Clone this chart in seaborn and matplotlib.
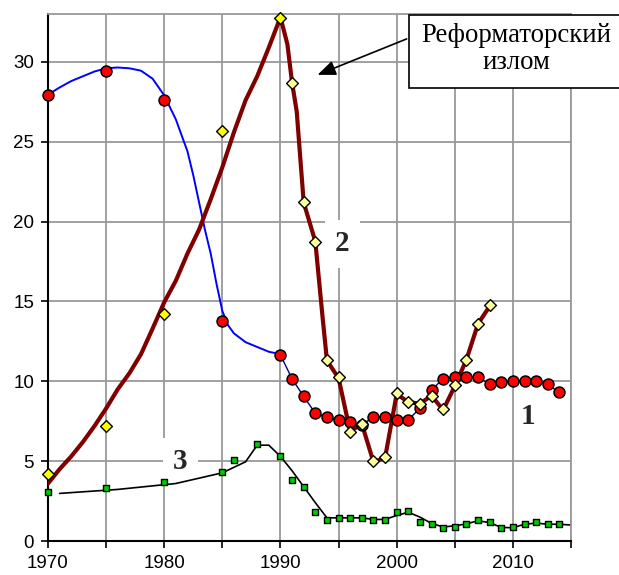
import numpy as np
import pandas as pd
import matplotlib
matplotlib.use("Agg")
import matplotlib.pyplot as plt
import matplotlib.patches as mpatches
import seaborn as sns

# ==============================
# Style
# ==============================
sns.set_theme(style="whitegrid")
plt.rcParams['font.family'] = ['Liberation Sans', 'DejaVu Sans']

# ==============================
# Data
# ==============================
# series 1 - red circles
years1 = [1970, 1975, 1980, 1985] + list(range(1990, 2015))
vals1 = [27.9, 29.4, 27.6, 13.8,
         11.65, 10.15, 9.05, 8.0, 7.75, 7.55, 7.45, 7.25, 7.78, 7.78,
         7.6, 7.6, 8.3, 9.45, 10.17, 10.3, 10.28, 10.28, 9.8, 9.95,
         10.05, 10.05, 10.05, 9.8, 9.3]

# smooth blue curve 1970-1990
blue_years = [1970, 1971, 1972, 1973, 1974, 1975, 1976, 1977, 1978, 1979,
              1980, 1981, 1982, 1982.5, 1983, 1983.5, 1984, 1984.5, 1985, 1985.5,
              1986, 1987, 1988, 1989, 1990]
blue_vals = [27.95, 28.4, 28.8, 29.1, 29.4, 29.6, 29.65, 29.6, 29.45, 28.95,
             27.9, 26.4, 24.4, 22.9, 21.2, 19.5, 18.0, 16.1, 14.4, 13.5,
             13.0, 12.45, 12.15, 11.85, 11.7]

# series 2 - yellow diamonds
years2_old = [1970, 1975, 1980, 1985, 1990]
vals2_old = [4.2, 7.2, 14.2, 25.7, 32.75]
years2_new = list(range(1991, 2009))
vals2_new = [28.7, 21.2, 18.75, 11.35, 10.25, 6.85, 7.3, 4.98, 5.25,
             9.25, 8.7, 8.6, 9.08, 8.25, 9.75, 11.35, 13.6, 14.75]

# thick dark red curve for series 2
red_years = list(range(1970, 1991)) + [1990.6, 1991, 1991.4, 1992, 1993, 1993.6,
                                       1994, 1995, 1996, 1997, 1998, 1999, 2000,
                                       2001, 2002, 2003, 2004, 2005, 2006, 2007, 2008]
red_vals = [3.6, 4.5, 5.3, 6.2, 7.2, 8.3, 9.5, 10.5, 11.7, 13.3,
            14.95, 16.3, 18.0, 19.5, 21.4, 23.4, 25.6, 27.6, 29.1, 30.9, 32.8,
            31.1, 28.7, 26.9, 21.2, 18.75, 14.2,
            11.3, 10.2, 6.85, 7.35, 4.95, 5.2, 9.2,
            8.7, 8.6, 9.1, 8.2, 9.7, 11.35, 13.6, 14.7]

# series 3 - green squares
years3 = [1970, 1975, 1980, 1985, 1986, 1988] + list(range(1990, 2015))
vals3 = [3.05, 3.3, 3.7, 4.3, 5.05, 6.05,
         5.3, 3.8, 3.4, 1.8, 1.3, 1.45, 1.45, 1.45, 1.3, 1.3,
         1.8, 1.85, 1.2, 1.05, 0.8, 0.9, 1.05, 1.3, 1.2, 0.8,
         0.9, 1.05, 1.2, 1.05, 1.05]

# black line for series 3
black_years = [1971, 1976, 1981, 1985, 1987, 1988, 1989] + list(range(1990, 2016))
black_vals = [2.98, 3.23, 3.6, 4.27, 4.96, 6.0, 6.0,
              5.3, 4.4, 3.4, 2.4, 1.45, 1.45, 1.45, 1.45, 1.35, 1.35,
              1.6, 1.8, 1.5, 1.1, 0.88, 0.95, 1.07, 1.27, 1.15, 0.85,
              0.83, 1.05, 1.12, 1.05, 1.05, 1.0]

xticks = list(range(1970, 2016, 5))
xtick_labels = ['1970', '', '1980', '', '1990', '', '2000', '', '2010', '']
yticks = list(range(0, 31, 5))

# ==============================
# Plot
# ==============================
fig = plt.figure(figsize=(6.19, 5.75), dpi=100)
ax = fig.add_axes([48 / 619, 34 / 575, 523 / 619, 527 / 575])
ax.set_facecolor('white')

# lines
sns.lineplot(x=blue_years, y=blue_vals, ax=ax, color='#0000FF', lw=1.4,
             sort=False, estimator=None, zorder=2)
sns.lineplot(x=years1[4:], y=vals1[4:], ax=ax, color='#000080', lw=1.0,
             sort=False, estimator=None, zorder=2)
sns.lineplot(x=black_years, y=black_vals, ax=ax, color='black', lw=1.2,
             sort=False, estimator=None, zorder=2, clip_on=False)
sns.lineplot(x=red_years, y=red_vals, ax=ax, color='#800000', lw=3.0,
             sort=False, estimator=None, zorder=3, solid_joinstyle='round')

# markers
sns.scatterplot(x=years3, y=vals3, ax=ax, marker='s', s=20, color='#00CC00',
                edgecolor='black', linewidth=1.0, zorder=4, clip_on=False)
sns.scatterplot(x=years1, y=vals1, ax=ax, marker='o', s=62, color='#FF0000',
                edgecolor='black', linewidth=1.1, zorder=5, clip_on=False)
sns.scatterplot(x=years2_old, y=vals2_old, ax=ax, marker='D', s=36, color='#FFFF00',
                edgecolor='black', linewidth=1.0, zorder=6, clip_on=False)
sns.scatterplot(x=years2_new, y=vals2_new, ax=ax, marker='D', s=36, color='#FFFF99',
                edgecolor='black', linewidth=1.0, zorder=6, clip_on=False)

# axes
ax.set_xlim(1970, 2015)
ax.set_ylim(0, 33)
ax.set_xticks(xticks)
ax.set_xticklabels(xtick_labels)
ax.set_yticks(yticks)
ax.set_xlabel('')
ax.set_ylabel('')
ax.grid(True, color='#999999', lw=1.3)
ax.set_axisbelow(True)
for side in ['left', 'bottom']:
    ax.spines[side].set_color('black')
    ax.spines[side].set_linewidth(1.5)
for side in ['top', 'right']:
    ax.spines[side].set_color('#999999')
    ax.spines[side].set_linewidth(1.3)
ax.tick_params(axis='both', which='major', direction='out', length=5, width=1.2,
               color='black', labelsize=13.5, pad=5, bottom=True, left=True,
               labelcolor='black')

# series labels (white box hides the grid, lines stay on top)
label_font = dict(fontsize=21, fontweight='bold', family=['Liberation Serif', 'DejaVu Serif'],
                  ha='center', va='center', zorder=1.5)
ax.text(2011.3, 7.8, '1', bbox=dict(facecolor='white', edgecolor='none', boxstyle='square,pad=0.15'),
        **label_font)
ax.text(1995.3, 18.6, '2', bbox=dict(facecolor='white', edgecolor='none', boxstyle='square,pad=0.35'),
        **label_font)
ax.text(1981.4, 4.95, '3', bbox=dict(facecolor='white', edgecolor='none', boxstyle='square,pad=0.35'),
        **label_font)

# callout
box = mpatches.Rectangle((409 / 619, 1 - 88 / 575), 211 / 619, 73 / 575,
                         transform=fig.transFigure, facecolor='white',
                         edgecolor='black', lw=1.2, zorder=8)
fig.patches.append(box)
fig.text(516 / 619, 1 - 49 / 575, 'Реформаторский\nизлом', ha='center', va='center',
         fontsize=19.3, family=['Liberation Serif', 'DejaVu Serif'], color='black',
         linespacing=1.15, zorder=9)
ax.annotate('', xy=(1993.19, 29.19), xytext=(2000.86, 31.44),
            arrowprops=dict(arrowstyle='-|>,head_length=1.1,head_width=0.45',
                            color='black', lw=1.2, shrinkA=0, shrinkB=0,
                            mutation_scale=10),
            zorder=8)

fig.savefig('out.png', dpi=100)
